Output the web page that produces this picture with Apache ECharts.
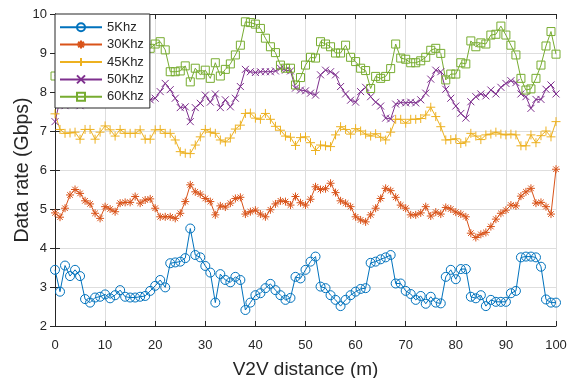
<style>
  body { margin: 0; }
</style>
<script src="https://cdn.jsdelivr.net/npm/echarts@6/dist/echarts.min.js"></script>
<div id="chart" style="width: 567px; height: 378px"></div>

<script>
  // distance steps along the road, 0..100 m
  const distance = []
  for (let i = 0; i <= 100; i++) distance.push(i)

  const rate5 = [3.44, 2.88, 3.55, 3.28, 3.44, 3.28, 2.69, 2.6, 2.73, 2.75,
    2.81, 2.71, 2.79, 2.92, 2.75, 2.73, 2.73, 2.75, 2.77, 2.9,
    3.03, 3.18, 2.99, 3.61, 3.63, 3.65, 3.74, 4.5, 3.82, 3.76,
    3.54, 3.37, 2.6, 3.33, 3.18, 3.12, 3.26, 3.18, 2.41, 2.6,
    2.79, 2.84, 2.97, 3.08, 2.92, 2.79, 2.67, 2.72, 3.26, 3.22,
    3.44, 3.65, 3.78, 3.01, 2.97, 2.79, 2.67, 2.51, 2.67, 2.79,
    2.88, 2.95, 2.97, 3.62, 3.65, 3.71, 3.76, 3.82, 3.09, 3.09,
    2.9, 2.82, 2.67, 2.77, 2.57, 2.75, 2.6, 2.58, 3.26, 3.44,
    3.2, 3.46, 3.46, 2.75, 2.71, 2.79, 2.51, 2.67, 2.62, 2.62,
    2.62, 2.84, 2.9, 3.76, 3.78, 3.78, 3.76, 3.52, 2.68, 2.6, 2.6]

  const rate30 = [4.9, 4.79, 5.02, 5.36, 5.5, 5.4, 5.21, 5.13, 4.89, 4.76,
    5.06, 5.0, 4.93, 5.15, 5.17, 5.17, 5.32, 5.15, 5.23, 5.26,
    5.02, 4.8, 4.8, 4.8, 4.76, 4.89, 5.19, 5.62, 5.44, 5.38,
    5.27, 5.19, 4.85, 5.08, 5.05, 5.15, 5.27, 5.3, 4.87, 4.93,
    4.97, 4.87, 4.8, 4.98, 5.13, 5.21, 5.19, 5.1, 5.32, 5.16,
    5.1, 5.25, 5.57, 5.5, 5.52, 5.66, 5.42, 5.21, 5.15, 5.06,
    4.8, 4.72, 4.67, 4.85, 5.02, 5.27, 5.53, 5.47, 5.3, 5.1,
    5.02, 4.85, 4.85, 4.9, 5.06, 4.82, 4.92, 4.87, 5.04, 5.0,
    4.92, 4.87, 4.8, 4.38, 4.27, 4.35, 4.4, 4.55, 4.74, 4.89,
    4.97, 5.1, 5.08, 5.33, 5.44, 5.53, 5.15, 5.17, 5.06, 4.87, 6.02]

  const rate45 = [7.44, 7.04, 6.94, 6.95, 6.97, 6.79, 7.04, 7.04, 6.79, 6.97,
    7.13, 7.03, 6.87, 7.04, 6.94, 6.94, 6.94, 7.03, 6.79, 6.79,
    7.03, 7.04, 6.94, 6.94, 6.77, 6.47, 6.43, 6.42, 6.64, 6.85,
    7.04, 6.97, 6.94, 6.77, 6.72, 6.82, 7.05, 7.15, 7.45, 7.46,
    7.33, 7.3, 7.45, 7.3, 7.12, 7.02, 6.87, 6.84, 6.63, 6.83,
    6.85, 6.7, 6.5, 6.64, 6.62, 6.6, 6.9, 7.11, 7.04, 6.92,
    7.06, 7.0, 6.92, 6.87, 6.93, 6.84, 6.77, 6.97, 7.3, 7.3,
    7.2, 7.3, 7.3, 7.32, 7.41, 7.61, 7.37, 7.11, 6.77, 6.78,
    6.8, 6.68, 6.72, 6.94, 6.87, 6.78, 6.9, 6.92, 6.97, 6.92,
    6.9, 6.92, 6.9, 6.62, 6.62, 6.9, 6.7, 6.88, 7.0, 6.85, 7.24]

  const rate50 = [7.24, 7.8, 7.65, 7.8, 7.85, 7.65, 7.75, 7.85, 7.8, 7.9,
    7.85, 7.9, 8.0, 7.9, 7.95, 8.0, 7.9, 7.85, 7.75, 7.8,
    7.84, 8.01, 8.22, 8.06, 7.84, 7.6, 7.62, 7.24, 7.6, 7.71,
    7.92, 7.74, 7.95, 7.6, 7.8, 7.62, 7.84, 8.14, 8.58, 8.52,
    8.5, 8.52, 8.52, 8.52, 8.54, 8.61, 8.56, 8.54, 8.1, 8.05,
    8.03, 7.97, 7.92, 8.44, 8.56, 8.52, 8.44, 8.14, 7.95, 7.79,
    7.74, 8.01, 8.12, 7.88, 7.74, 7.64, 7.33, 7.31, 7.69, 7.73,
    7.72, 7.74, 7.72, 7.8, 7.97, 8.33, 8.56, 8.52, 8.07, 7.84,
    7.64, 7.45, 7.33, 7.75, 7.88, 7.95, 7.9, 8.05, 7.95, 8.12,
    8.22, 8.29, 8.24, 7.95, 7.88, 7.58, 7.81, 7.81, 8.07, 8.18, 7.95]

  const rate60 = [8.41, 8.6, 8.8, 8.7, 8.9, 8.8, 8.6, 8.7, 8.9, 8.8,
    8.7, 8.9, 9.0, 8.8, 8.9, 8.7, 8.8, 9.0, 9.1, 9.12,
    9.23, 9.29, 9.08, 8.52, 8.52, 8.54, 8.67, 8.26, 8.61, 8.44,
    8.56, 8.35, 8.75, 8.41, 8.58, 8.72, 8.95, 9.2, 9.8, 9.78,
    9.74, 9.63, 9.38, 9.16, 9.01, 8.69, 8.61, 8.61, 8.18, 8.37,
    8.69, 8.89, 8.87, 9.29, 9.23, 9.16, 9.0, 9.0, 9.2, 8.89,
    8.78, 8.61, 8.55, 8.09, 8.4, 8.35, 8.4, 8.6, 9.23, 8.87,
    8.84, 8.75, 8.75, 8.8, 8.89, 9.07, 9.12, 8.99, 8.31, 8.46,
    8.46, 8.75, 8.72, 9.31, 9.16, 9.26, 9.23, 9.46, 9.48, 9.69,
    9.46, 9.2, 8.95, 8.35, 8.05, 8.08, 8.35, 8.69, 9.18, 9.55, 8.97]

  const seriesNames = ['5Khz', '30Khz', '45Khz', '50Khz', '60Khz']

  const font = 'Liberation Sans, Arial, sans-serif'
  const axisColor = '#262626'
  const gridColor = '#dedede'

  const asterisk = 'path://M0 5L10 5M5 0L5 10M1.5 1.5L8.5 8.5M1.5 8.5L8.5 1.5'
  const plus = 'path://M0 5L10 5M5 0L5 10'
  const cross = 'path://M0 0L10 10M0 10L10 0'

  function lineSeries(name, values, color, symbol, size) {
    return {
      name,
      type: 'line',
      data: values.map((v, i) => [distance[i], v]),
      symbol,
      symbolSize: size,
      showAllSymbol: true,
      lineStyle: { color, width: 1 },
      itemStyle: { color: 'rgba(0,0,0,0)', borderColor: color, borderWidth: 1 },
      emphasis: { disabled: true },
      animation: false
    }
  }

  function valueAxis(extra) {
    return {
      type: 'value',
      axisLine: { show: true, lineStyle: { color: axisColor, width: 1 } },
      axisTick: { show: true, inside: true, length: 5, lineStyle: { color: axisColor } },
      axisLabel: { color: axisColor, fontFamily: font, fontSize: 13 },
      splitLine: { show: true, lineStyle: { color: gridColor, width: 1 } },
      ...extra
    }
  }

  const myChart = echarts.init(document.getElementById('chart'))

  myChart.setOption({
    backgroundColor: '#fff',
    animation: false,
    grid: {
      left: 55, right: 11, top: 14, bottom: 52,
      containLabel: false,
      outerBoundsMode: 'none'
    },
    legend: {
      orient: 'vertical',
      left: 55,
      top: 14,
      itemWidth: 42,
      itemHeight: 10,
      itemGap: -5,
      padding: [2, 6, 0, 4],
      backgroundColor: '#fff',
      borderColor: axisColor,
      borderWidth: 1,
      borderRadius: 0,
      textStyle: { color: axisColor, fontFamily: font, fontSize: 13, lineHeight: 14 },
      data: seriesNames
    },
    xAxis: [
      valueAxis({
        min: 0, max: 100, interval: 10,
        name: 'V2V distance (m)',
        nameLocation: 'middle',
        nameGap: 27,
        nameMoveOverlap: false,
        nameTextStyle: { color: axisColor, fontFamily: font, fontSize: 19 },
        axisLabel: { color: axisColor, fontFamily: font, fontSize: 13, margin: 8 }
      }),
      valueAxis({
        min: 0, max: 100, interval: 10, position: 'top',
        axisLabel: { show: false }, splitLine: { show: false }
      })
    ],
    yAxis: [
      valueAxis({
        min: 2, max: 10, interval: 1,
        name: 'Data rate (Gbps)',
        nameLocation: 'middle',
        nameGap: 16,
        nameMoveOverlap: false,
        nameTextStyle: { color: axisColor, fontFamily: font, fontSize: 19.5 },
        axisLabel: { color: axisColor, fontFamily: font, fontSize: 13, margin: 8 }
      }),
      valueAxis({
        min: 2, max: 10, interval: 1, position: 'right',
        axisLabel: { show: false }, splitLine: { show: false }
      })
    ],
    series: [
      lineSeries(seriesNames[0], rate5, '#0072BD', 'circle', 9),
      lineSeries(seriesNames[1], rate30, '#D95319', asterisk, 8),
      lineSeries(seriesNames[2], rate45, '#EDB120', plus, 9),
      lineSeries(seriesNames[3], rate50, '#7E2F8E', cross, 7),
      lineSeries(seriesNames[4], rate60, '#77AC30', 'rect', 8)
    ]
  })
</script>
